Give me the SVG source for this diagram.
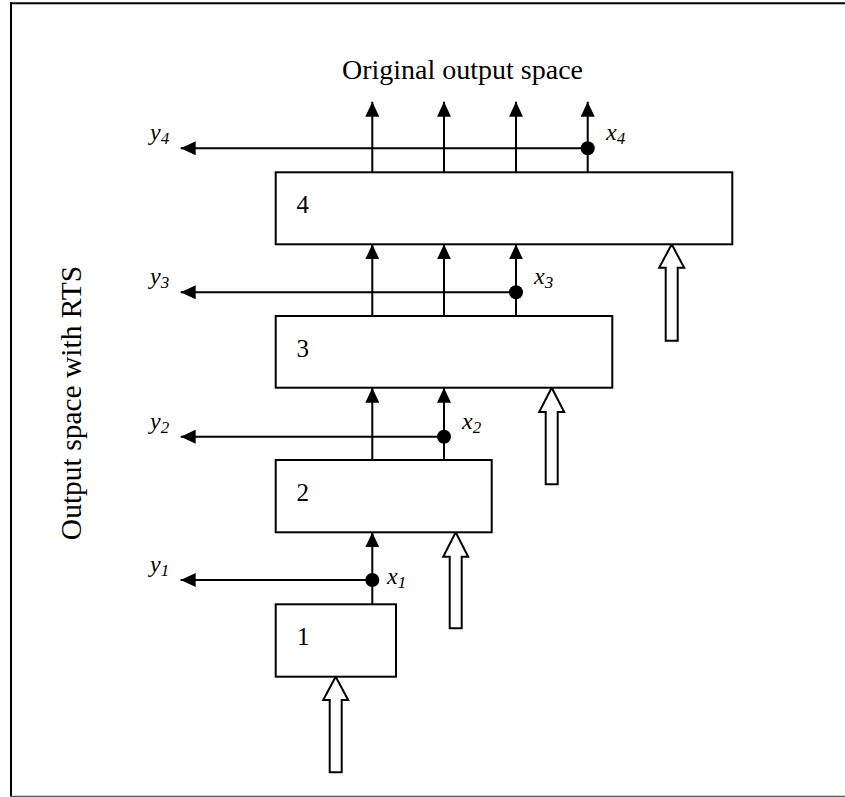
<svg xmlns="http://www.w3.org/2000/svg" width="845" height="797" viewBox="0 0 845 797">
<style>
.box{fill:#fff;stroke:#000;stroke-width:2}
.ln{fill:none;stroke:#000;stroke-width:2}
.dot{fill:#000}
.hol{fill:#fff;stroke:#000;stroke-width:2;stroke-linejoin:miter}
.t{font-family:"Liberation Serif","Times New Roman",serif;fill:#000}
.big{font-size:28px}
.vert{font-size:29.5px}
.num{font-size:25px}
.it{font-size:24px;font-style:italic}
.sub{font-size:17px}
</style>
<defs>
<marker id="ah" markerUnits="userSpaceOnUse" markerWidth="16" markerHeight="14" refX="15" refY="7" orient="auto" viewBox="0 0 16 14">
<path d="M0,0 L15,7 L0,14 z" fill="#000"/>
</marker>
</defs>
<rect x="0" y="0" width="845" height="797" fill="#fff"/>
<g id="frame">
<line x1="11" y1="2.3" x2="11" y2="797" stroke="#000" stroke-width="2"/>
<line x1="10" y1="3.3" x2="845" y2="3.3" stroke="#000" stroke-width="2"/>
<line x1="10" y1="796.3" x2="845" y2="796.3" stroke="#555" stroke-width="1.2"/>
</g>
<g id="connectors">
<line class="ln" x1="372.3" y1="604.3" x2="372.3" y2="532.3" marker-end="url(#ah)"/>
<line class="ln" x1="372.3" y1="460" x2="372.3" y2="387.7" marker-end="url(#ah)"/>
<line class="ln" x1="444" y1="460" x2="444" y2="387.7" marker-end="url(#ah)"/>
<line class="ln" x1="372.3" y1="316" x2="372.3" y2="244.3" marker-end="url(#ah)"/>
<line class="ln" x1="444" y1="316" x2="444" y2="244.3" marker-end="url(#ah)"/>
<line class="ln" x1="516" y1="316" x2="516" y2="244.3" marker-end="url(#ah)"/>
<line class="ln" x1="372.3" y1="172.3" x2="372.3" y2="101.7" marker-end="url(#ah)"/>
<line class="ln" x1="444" y1="172.3" x2="444" y2="101.7" marker-end="url(#ah)"/>
<line class="ln" x1="516" y1="172.3" x2="516" y2="101.7" marker-end="url(#ah)"/>
<line class="ln" x1="587.7" y1="172.3" x2="587.7" y2="101.7" marker-end="url(#ah)"/>
<line class="ln" x1="372.3" y1="580" x2="180.7" y2="580" marker-end="url(#ah)"/>
<line class="ln" x1="444" y1="436.7" x2="180.7" y2="436.7" marker-end="url(#ah)"/>
<line class="ln" x1="516" y1="292.3" x2="180.7" y2="292.3" marker-end="url(#ah)"/>
<line class="ln" x1="587.7" y1="148.3" x2="180.7" y2="148.3" marker-end="url(#ah)"/>
<circle class="dot" cx="372.3" cy="580" r="7"/>
<circle class="dot" cx="444" cy="436.7" r="7"/>
<circle class="dot" cx="516" cy="292.3" r="7"/>
<circle class="dot" cx="587.7" cy="148.3" r="7"/>
<polygon class="hol" points="335.7,676.7 348.2,700 341.7,700 341.7,772.3 329.7,772.3 329.7,700 323.2,700"/>
<polygon class="hol" points="455.7,532.3 468.2,556.7 461.7,556.7 461.7,628.3 449.7,628.3 449.7,556.7 443.2,556.7"/>
<polygon class="hol" points="551.7,387.7 564.2,412 557.7,412 557.7,484.3 545.7,484.3 545.7,412 539.2,412"/>
<polygon class="hol" points="671.7,244.3 684.2,267.7 677.7,267.7 677.7,340.7 665.7,340.7 665.7,267.7 659.2,267.7"/>
</g>
<g id="node1">
<rect class="box" x="275.7" y="604.3" width="120.3" height="72.4"/>
<text class="t num" x="297" y="645">1</text>
</g>
<g id="node2">
<rect class="box" x="275.7" y="460" width="216" height="72.3"/>
<text class="t num" x="296.5" y="500.5">2</text>
</g>
<g id="node3">
<rect class="box" x="275.7" y="316" width="336.6" height="71.7"/>
<text class="t num" x="296.5" y="357">3</text>
</g>
<g id="node4">
<rect class="box" x="275.7" y="172.3" width="456.6" height="72"/>
<text class="t num" x="296.5" y="213">4</text>
</g>
<g id="labels">
<text class="t big" x="462.5" y="79" text-anchor="middle">Original output space</text>
<text class="t vert" transform="translate(81,403) rotate(-90)" text-anchor="middle">Output space with RTS</text>
<text class="t it" x="150" y="140">y<tspan class="sub" dy="4">4</tspan></text>
<text class="t it" x="150" y="284">y<tspan class="sub" dy="4">3</tspan></text>
<text class="t it" x="150" y="429">y<tspan class="sub" dy="4">2</tspan></text>
<text class="t it" x="150" y="572">y<tspan class="sub" dy="4">1</tspan></text>
<text class="t it" x="606" y="140">x<tspan class="sub" dy="4">4</tspan></text>
<text class="t it" x="534" y="284">x<tspan class="sub" dy="4">3</tspan></text>
<text class="t it" x="462" y="429">x<tspan class="sub" dy="4">2</tspan></text>
<text class="t it" x="387" y="584">x<tspan class="sub" dy="4">1</tspan></text>
</g>
</svg>
